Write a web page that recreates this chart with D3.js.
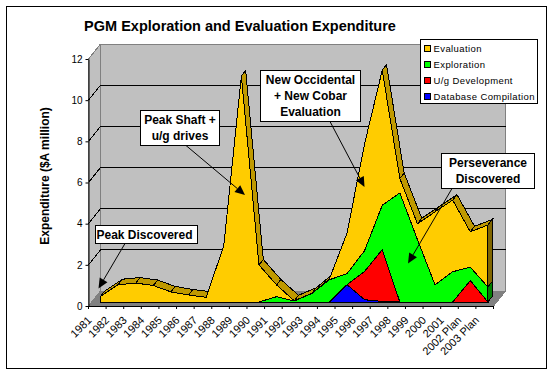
<!DOCTYPE html>
<html>
<head>
<meta charset="utf-8">
<script src="https://cdn.jsdelivr.net/npm/d3@7"></script>
<style>
  body { margin: 0; background: #fff; }
  text { font-family: "Liberation Sans", Arial, sans-serif; fill: #000; }
  .solid { shape-rendering: crispEdges; }
  .callout text { font-size: 12px; font-weight: bold; text-anchor: middle; }
</style>
</head>
<body>
<div id="chart"></div>
<script>
var categories = ["1981","1982","1983","1984","1985","1986","1987","1988","1989","1990","1991","1992",
  "1993","1994","1995","1996","1997","1998","1999","2000","2001","2002 Plan","2003 Plan"];

// $A million
var evaluation  = [0.27,0.84,0.92,0.80,0.49,0.34,0.23,2.73,10.98,1.80,0.57,0.01,0.01,0.04,1.97,5.20,6.56,0.70,0.77,3.55,3.48,1.72,3.01];
var exploration = [0,0,0,0,0,0,0,0,0,0,0.26,0.05,0.41,1.08,0.54,1.01,2.16,5.30,3.03,0.83,1.47,0.65,0.73];
var ugDev       = [0,0,0,0,0,0,0,0,0,0,0,0,0,0,0,1.38,2.51,0,0,0,0,1.04,0];
var database    = [0,0,0,0,0,0,0,0,0,0,0,0,0,0,0.84,0.11,0.03,0,0,0,0,0,0];

var seriesNames = ["Evaluation","Exploration","U/g Development","Database Compilation"];
var seriesColors = ["#FFCC00","#00FF00","#FF0000","#0000FF"];
var sideColors = ["#806600","#008000","#800000","#000080"];
var yTicks = [0,2,4,6,8,10,12];

var notes = [
  {lines:["Peak Discovered"], box:[95.5,225.5,102,18], from:[125,243.5], to:[98.5,288.5], shift:-2},
  {lines:["Peak Shaft +","u/g drives"], box:[140.5,110.5,79,35], from:[186,145.5], to:[245,195], shift:0},
  {lines:["New Occidental","+ New Cobar","Evaluation"], box:[260.5,70.5,100,51], from:[330,121.5], to:[364.5,187], shift:0},
  {lines:["Perseverance","Discovered"], box:[441.5,153.5,93,35], from:[452,188.5], to:[408,263.5], shift:0}
];

var width = 552, height = 373;

var svg = d3.select("#chart").append("svg")
    .attr("width", width)
    .attr("height", height);

svg.append("rect").attr("class", "solid")
    .attr("x", 6.5).attr("y", 6.5).attr("width", 539.5).attr("height", 361.5)
    .attr("fill", "#fff").attr("stroke", "#000");

var x = d3.scaleBand().domain(categories).range([88.5, 493.5]);
var y = d3.scaleLinear().domain([0, 12]).range([306, 59]);

// depth of the 3d box, and of the area ribbon inside it
var depthX = 12, depthY = 15;
var frontX = 3.2, frontY = 4;
var ribbonX = 4.3, ribbonY = 5.5;

var wall = svg.append("g").attr("class", "solid");
var x0 = x.range()[0], x1 = x.range()[1];

wall.append("path")
    .attr("d", d3.line()([[x0, y(12)], [x0 + depthX, y(12) - depthY], [x1 + depthX, y(12) - depthY],
      [x1 + depthX, y(0) - depthY], [x0 + depthX, y(0) - depthY], [x0, y(0)]]) + "Z")
    .attr("fill", "#C0C0C0").attr("stroke", "#808080");

wall.append("path")
    .attr("d", d3.line()([[x0, y(0)], [x1, y(0)], [x1 + depthX, y(0) - depthY], [x0 + depthX, y(0) - depthY]]) + "Z")
    .attr("fill", "#808080").attr("stroke", "#808080");

wall.append("line")
    .attr("x1", x0 + depthX).attr("x2", x0 + depthX)
    .attr("y1", y(12) - depthY).attr("y2", y(0) - depthY)
    .attr("stroke", "#808080");

yTicks.filter(function(d) { return d > 0 && d < 12; }).forEach(function(d) {
  wall.append("path")
      .attr("d", d3.line()([[x0, y(d)], [x0 + depthX, y(d) - depthY], [x1 + depthX, y(d) - depthY]]))
      .attr("fill", "none").attr("stroke", "#000");
});

// stacked areas, bottom layer first in the stack
var keys = [0, 1, 2, 3];
var rows = categories.map(function(c, i) {
  return { cat: c, 0: database[i], 1: ugDev[i], 2: exploration[i], 3: evaluation[i] };
});
var stacked = d3.stack().keys(keys)(rows);
var layerColor = [seriesColors[3], seriesColors[2], seriesColors[1], seriesColors[0]];
var layerSide = [sideColors[3], sideColors[2], sideColors[1], sideColors[0]];

function px(d) { return x(d.data.cat) + x.bandwidth() / 2 + frontX; }

// top surface of the ribbon
var ribbon = svg.append("g").attr("class", "solid");
d3.pairs(stacked[3]).forEach(function(p) {
  var a = [px(p[0]), y(p[0][1]) - frontY], b = [px(p[1]), y(p[1][1]) - frontY];
  ribbon.append("path")
      .attr("d", d3.line()([a, b, [b[0] + ribbonX, b[1] - ribbonY], [a[0] + ribbonX, a[1] - ribbonY]]) + "Z")
      .attr("fill", "#BF9900").attr("stroke", "#000");
});

// end cap on the right
stacked.forEach(function(s, k) {
  var d = s[s.length - 1];
  if (d[1] - d[0] <= 0) return;
  var ex = px(d);
  ribbon.append("path")
      .attr("d", d3.line()([[ex, y(d[0]) - frontY], [ex, y(d[1]) - frontY],
        [ex + ribbonX, y(d[1]) - frontY - ribbonY], [ex + ribbonX, y(d[0]) - frontY - ribbonY]]) + "Z")
      .attr("fill", layerSide[k]).attr("stroke", "#000");
});

var area = d3.area()
    .x(px)
    .y0(function(d) { return y(d[0]) - frontY; })
    .y1(function(d) { return y(d[1]) - frontY; });

svg.append("g").attr("class", "solid")
  .selectAll("path")
  .data(stacked)
  .enter().append("path")
    .attr("d", area)
    .attr("fill", function(d, i) { return layerColor[i]; })
    .attr("stroke", "#000");

// axes
var yAxis = svg.append("g")
    .attr("transform", "translate(" + x0 + ",0)")
    .call(d3.axisLeft(y).tickValues(yTicks).tickSize(3).tickPadding(3).tickSizeOuter(0));
yAxis.selectAll("text").style("font-size", "10px").style("font-family", "Liberation Sans");

svg.append("line").attr("class", "solid")
    .attr("x1", x0).attr("x2", x1).attr("y1", y(0)).attr("y2", y(0)).attr("stroke", "#000");

// ticks sit on the band edges, labels hang from them
var xAxis = svg.append("g")
    .attr("transform", "translate(" + (-x.bandwidth() / 2) + "," + y(0) + ")")
    .call(d3.axisBottom(x).tickSize(3).tickSizeOuter(0));
xAxis.select(".domain").remove();
xAxis.selectAll("text")
    .attr("transform", "translate(-2,9) rotate(-45)")
    .attr("x", 0).attr("y", 0).attr("dy", ".75em")
    .style("text-anchor", "end")
    .style("font-size", "11px")
    .style("font-family", "Liberation Sans");
svg.append("line")
    .attr("x1", x1).attr("x2", x1).attr("y1", y(0)).attr("y2", y(0) + 3).attr("stroke", "#000");

svg.append("text")
    .attr("x", 240).attr("y", 31)
    .attr("text-anchor", "middle")
    .style("font-size", "14.5px").style("font-weight", "bold")
    .text("PGM Exploration and Evaluation Expenditure");

svg.append("text")
    .attr("transform", "translate(49,176) rotate(-90)")
    .attr("text-anchor", "middle")
    .style("font-size", "12px").style("font-weight", "bold")
    .text("Expenditure ($A million)");

// legend
var legend = svg.append("g");
legend.append("rect").attr("class", "solid")
    .attr("x", 420.5).attr("y", 39.5).attr("width", 117).attr("height", 64)
    .attr("fill", "#fff").attr("stroke", "#000");
seriesNames.forEach(function(name, i) {
  var cy = 48.5 + i * 16;
  legend.append("rect").attr("class", "solid")
      .attr("x", 424.5).attr("y", cy - 3).attr("width", 6).attr("height", 6)
      .attr("fill", seriesColors[i]).attr("stroke", "#000");
  legend.append("text")
      .attr("x", 433.5).attr("y", cy + 3.5)
      .style("font-size", "9.5px").style("letter-spacing", "0.4px")
      .text(name);
});

// callouts
var callouts = svg.append("g").attr("class", "callout");
notes.forEach(function(n) {
  var g = callouts.append("g");
  var ang = Math.atan2(n.to[1] - n.from[1], n.to[0] - n.from[0]);
  var len = 10, wide = 4.5;
  var bx = n.to[0] - len * Math.cos(ang), by = n.to[1] - len * Math.sin(ang);
  g.append("line")
      .attr("x1", n.from[0]).attr("y1", n.from[1]).attr("x2", bx).attr("y2", by)
      .attr("stroke", "#000");
  g.append("path")
      .attr("d", d3.line()([n.to, [bx + wide * Math.sin(ang), by - wide * Math.cos(ang)],
        [bx - wide * Math.sin(ang), by + wide * Math.cos(ang)]]) + "Z")
      .attr("fill", "#000");
  g.append("rect").attr("class", "solid")
      .attr("x", n.box[0]).attr("y", n.box[1]).attr("width", n.box[2]).attr("height", n.box[3])
      .attr("fill", "#fff").attr("stroke", "#000");
  n.lines.forEach(function(t, i) {
    g.append("text")
        .attr("x", n.box[0] + n.box[2] / 2 + n.shift)
        .attr("y", n.box[1] + 13.5 + i * 16)
        .text(t);
  });
});
</script>
</body>
</html>
